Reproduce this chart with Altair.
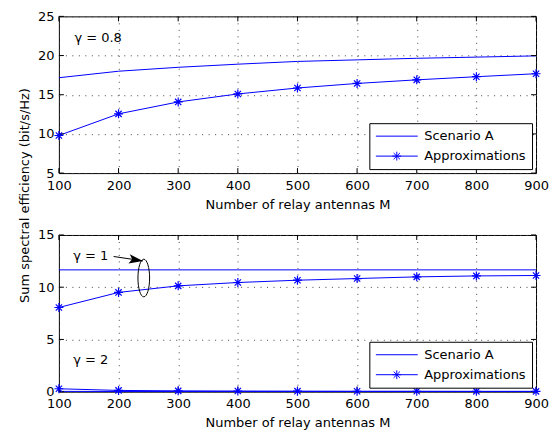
import altair as alt
import pandas as pd

# ---------------- data ----------------
M = [100, 200, 300, 400, 500, 600, 700, 800, 900]
series_names = ["Scenario A", "Approximations"]

# top panel (gamma = 0.8)
sa_g08 = [17.17, 18.0, 18.5, 18.9, 19.25, 19.45, 19.65, 19.8, 19.96]
ap_g08 = [9.8, 12.56, 14.08, 15.1, 15.86, 16.44, 16.9, 17.3, 17.68]

# bottom panel (gamma = 1 and gamma = 2)
sa_g1 = [11.66, 11.66, 11.66, 11.66, 11.66, 11.66, 11.66, 11.66, 11.66]
ap_g1 = [8.06, 9.5, 10.13, 10.45, 10.67, 10.83, 10.99, 11.08, 11.12]
sa_g2 = [0.03, 0.02, 0.02, 0.02, 0.02, 0.02, 0.02, 0.02, 0.02]
ap_g2 = [0.28, 0.12, 0.08, 0.06, 0.05, 0.04, 0.04, 0.03, 0.03]

top_yticks = [5, 10, 15, 20, 25]
bot_yticks = [0, 5, 10, 15]

top_labels = ["γ = 0.8"]
top_label_M = [126]
top_label_v = [22.3]
bot_labels = ["γ = 1", "γ = 2"]
bot_label_M = [124, 124]
bot_label_v = [13.0, 3.06]

# arrow & ellipse annotation (data coordinates)
arrow_M = [191.7, 240.9]
arrow_v = [12.94, 12.52]
ellipse_M = [242.3]
ellipse_v = [10.88]

# ---------------- styling ----------------
BLUE = "#0000ff"
FONT = "DejaVu Sans"
W, H = 478, 157
STAR = "M -1 0 L 1 0 M 0 -1 L 0 1 M -0.7 -0.7 L 0.7 0.7 M -0.7 0.7 L 0.7 -0.7"
LEG_LINE = "M -1 0 L 1 0"
LEG_STAR = ("M -1 0 L 1 0 M 0 -0.21 L 0 0.21 M -0.21 0 L 0.21 0 "
            "M -0.15 -0.15 L 0.15 0.15 M -0.15 0.15 L 0.15 -0.15")
ARROWHEAD = "M 0 0 L -1 -0.33 L -0.78 0 L -1 0.33 Z"
ELLIPSE = ("M 0 -1 C 0.171 -1 0.31 -0.5523 0.31 0 C 0.31 0.5523 0.171 1 0 1 "
           "C -0.171 1 -0.31 0.5523 -0.31 0 C -0.31 -0.5523 -0.171 -1 0 -1 Z")


def make_df(groups):
    rows = []
    for gamma, series, vals in groups:
        for m, v in zip(M, vals):
            rows.append({"M": m, "value": v, "series": series,
                         "key": f"{gamma}-{series}"})
    return pd.DataFrame(rows)


def panel(df, ydom, yticks, ytitle, labels_df, extra_layers):
    x_axis = alt.Axis(values=M, tickCount=20, title="Number of relay antennas M",
                      grid=True, labelPadding=6, titlePadding=6, labelFlush=False,
                      labelOverlap=False)
    y_kwargs = dict(values=yticks, tickCount=20, grid=True, labelPadding=5,
                    labelOverlap=False, labelFlush=False)
    if ytitle:
        y_axis = alt.Axis(title=ytitle, titleX=-27, titleY=179, **y_kwargs)
    else:
        y_axis = alt.Axis(title=None, **y_kwargs)
    xs = alt.X("M:Q", scale=alt.Scale(domain=[100, 900], nice=False, zero=False),
               axis=x_axis)
    ys = alt.Y("value:Q", scale=alt.Scale(domain=ydom, nice=False, zero=False),
               axis=y_axis)
    base = alt.Chart(df)
    lines = base.mark_line(color=BLUE, strokeWidth=1).encode(
        x=xs, y=ys, detail="key:N")
    pts = base.transform_filter("datum.series == 'Approximations'").mark_point(
        shape=STAR, size=81, color=BLUE, filled=False, strokeWidth=1.2, opacity=1
    ).encode(x="M:Q", y="value:Q")
    legend_layer = base.transform_filter("false").mark_point(
        filled=False, color=BLUE, size=1764, strokeWidth=1, opacity=1
    ).encode(
        x="M:Q", y="value:Q",
        shape=alt.Shape("series:N",
                        scale=alt.Scale(domain=series_names, range=[LEG_LINE, LEG_STAR]),
                        legend=alt.Legend(title=None, orient="bottom-right", offset=4,
                                          strokeColor="black", fillColor="white",
                                          padding=6, cornerRadius=0,
                                          labelFont=FONT, labelFontSize=13,
                                          labelColor="black", labelOffset=6,
                                          symbolSize=1764, symbolStrokeWidth=1,
                                          symbolStrokeColor=BLUE, symbolOpacity=1,
                                          clipHeight=14, rowPadding=6)))
    xt = alt.Chart(pd.DataFrame({"M": M}))
    yt = alt.Chart(pd.DataFrame({"value": yticks}))
    ticks = [
        xt.mark_rule(color="black", strokeWidth=1).encode(x="M:Q", y=alt.value(H), y2=alt.value(H - 5)),
        xt.mark_rule(color="black", strokeWidth=1).encode(x="M:Q", y=alt.value(0), y2=alt.value(5)),
        yt.mark_rule(color="black", strokeWidth=1).encode(y="value:Q", x=alt.value(0), x2=alt.value(5)),
        yt.mark_rule(color="black", strokeWidth=1).encode(y="value:Q", x=alt.value(W), x2=alt.value(W - 5)),
    ]
    text = alt.Chart(labels_df).mark_text(
        align="left", baseline="middle", font=FONT, fontSize=13, color="black"
    ).encode(x="M:Q", y="value:Q", text="label:N")
    layers = [lines] + ticks + [pts, text] + extra_layers + [legend_layer]
    return alt.layer(*layers).properties(width=W, height=H)


df_top = make_df([("0.8", "Scenario A", sa_g08), ("0.8", "Approximations", ap_g08)])
df_bot = make_df([("1", "Scenario A", sa_g1), ("1", "Approximations", ap_g1),
                  ("2", "Scenario A", sa_g2), ("2", "Approximations", ap_g2)])

top_text = pd.DataFrame({"M": top_label_M, "value": top_label_v, "label": top_labels})
bot_text = pd.DataFrame({"M": bot_label_M, "value": bot_label_v, "label": bot_labels})

arrow_df = pd.DataFrame({"M": [arrow_M[0]], "M2": [arrow_M[1]],
                         "value": [arrow_v[0]], "value2": [arrow_v[1]]})
arrow_line = alt.Chart(arrow_df).mark_rule(color="black", strokeWidth=1).encode(
    x="M:Q", x2="M2:Q", y="value:Q", y2="value2:Q")
arrow_head = alt.Chart(arrow_df).mark_point(
    shape=ARROWHEAD, size=784, filled=True, color="black", opacity=1, angle=8.5
).encode(x="M2:Q", y="value2:Q")
ellipse = alt.Chart(pd.DataFrame({"M": ellipse_M, "value": ellipse_v})).mark_point(
    shape=ELLIPSE, size=1421, filled=False, color="black", strokeWidth=1, opacity=1
).encode(x="M:Q", y="value:Q")

top = panel(df_top, [5, 25], top_yticks, "Sum spectral efficiency (bit/s/Hz)", top_text, [])
bottom = panel(df_bot, [0, 15], bot_yticks, None, bot_text, [arrow_line, arrow_head, ellipse])

chart = alt.vconcat(top, bottom, spacing=62, bounds="flush").resolve_scale(
    shape="independent"
).resolve_legend(shape="independent").configure(
    font=FONT, padding={"top": 1, "left": 10, "right": 0, "bottom": 0}
).configure_view(stroke="black", strokeWidth=1).configure_axis(
    labelFont=FONT, titleFont=FONT, labelFontSize=13, titleFontSize=13,
    titleFontWeight="normal", labelColor="black", titleColor="black",
    gridColor="#444444", gridDash=[1, 5.5], gridOpacity=1, gridWidth=1,
    tickSize=0, domain=False
)

chart.save("out.html", embed_options={"renderer": "svg", "actions": False})
